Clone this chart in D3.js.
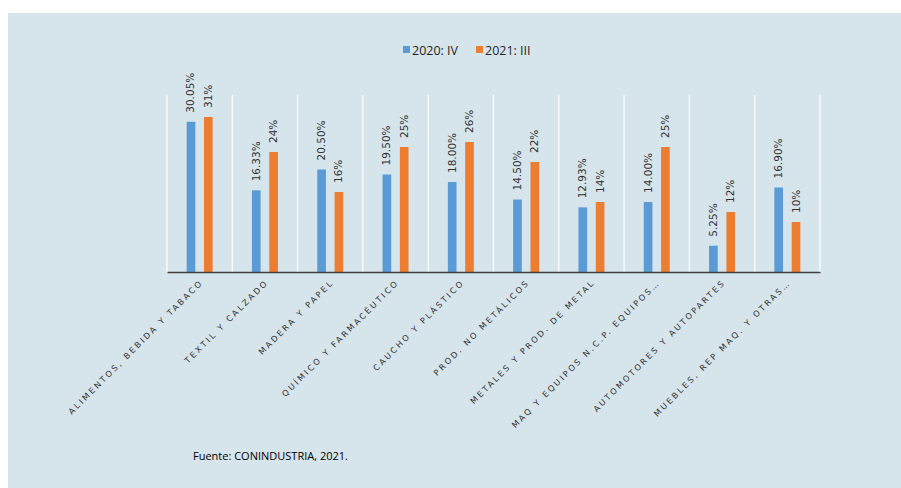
<!DOCTYPE html>
<html>
<head>
<meta charset="utf-8">
<script src="https://cdn.jsdelivr.net/npm/d3@7"></script>
<style>
  html, body { margin: 0; padding: 0; background: #ffffff; }
  svg { display: block; }
</style>
</head>
<body>
<svg id="chart" width="901" height="488"></svg>
<script>
// Sector categories (x axis)
const categories = [
  "ALIMENTOS, BEBIDA Y TABACO",
  "TEXTIL Y CALZADO",
  "MADERA Y PAPEL",
  "QUÍMICO Y FARMACÉUTICO",
  "CAUCHO Y PLÁSTICO",
  "PROD. NO METÁLICOS",
  "METALES Y PROD. DE METAL",
  "MAQ Y EQUIPOS N.C.P. EQUIPOS…",
  "AUTOMOTORES Y AUTOPARTES",
  "MUEBLES, REP MAQ. Y OTRAS…"
];

// Series names
const seriesNames = ["2020: IV", "2021: III"];

// Values in percent
const values2020IV = [30.05, 16.33, 20.50, 19.50, 18.00, 14.50, 12.93, 14.00, 5.25, 16.90];
const values2021III = [31, 24, 16, 25, 26, 22, 14, 25, 12, 10];

// Label formats per series
const labelDecimals = [2, 0];

const sourceNote = "Fuente: CONINDUSTRIA, 2021.";

const seriesColors = ["#5b9bd5", "#ed7d31"];

const svg = d3.select("#chart");

// Panel background
svg.append("rect")
  .attr("x", 8).attr("y", 13)
  .attr("width", 893).attr("height", 475)
  .attr("fill", "#d6e4ec");

const plot = { left: 167, right: 820, top: 95, bottom: 272 };

const x0 = d3.scaleBand()
  .domain(categories)
  .range([plot.left, plot.right])
  .paddingInner(0).paddingOuter(0);

const bw = x0.bandwidth();
const x1 = d3.scaleBand()
  .domain(seriesNames)
  .range([bw / 2 - 13, bw / 2 + 13])
  .paddingInner(0.5).paddingOuter(0);

const y = d3.scaleLinear().domain([0, 35]).range([plot.bottom, 97]);

// Vertical category separators
const bounds = categories.map(c => x0(c)).concat([plot.right]);
svg.append("g")
  .selectAll("line")
  .data(bounds)
  .join("line")
  .attr("x1", d => d).attr("x2", d => d)
  .attr("y1", plot.top).attr("y2", plot.bottom)
  .attr("stroke", "#ffffff")
  .attr("stroke-width", 1.2);

const rows = categories.map((c, i) => ({
  cat: c,
  vals: [values2020IV[i], values2021III[i]]
}));

const groups = svg.append("g")
  .selectAll("g")
  .data(rows)
  .join("g")
  .attr("transform", d => `translate(${x0(d.cat)},0)`);

groups.selectAll("rect")
  .data(d => d.vals.map((v, k) => ({ v, k })))
  .join("rect")
  .attr("x", d => x1(seriesNames[d.k]))
  .attr("y", d => y(d.v))
  .attr("width", x1.bandwidth())
  .attr("height", d => y(0) - y(d.v))
  .attr("fill", d => seriesColors[d.k]);

// Value labels, rotated
groups.selectAll("text")
  .data(d => d.vals.map((v, k) => ({ v, k })))
  .join("text")
  .attr("transform", d => {
    const cx = x1(seriesNames[d.k]) + x1.bandwidth() / 2 + 3.5;
    return `translate(${cx},${y(d.v) - 9}) rotate(-90)`;
  })
  .attr("text-anchor", "start")
  .attr("font-family", "DejaVu Sans, sans-serif")
  .attr("font-size", "10.5px")
  .attr("fill", "#333333")
  .text(d => d.v.toFixed(labelDecimals[d.k]) + "%");

// Baseline axis
const xAxis = d3.axisBottom(x0).tickSize(0).tickPadding(0).tickFormat(() => "");
svg.append("g")
  .attr("transform", `translate(0,${plot.bottom})`)
  .call(xAxis)
  .call(g => g.select(".domain").attr("stroke", "#404040").attr("stroke-width", 1.5));

// Category labels at 45°
svg.append("g")
  .selectAll("text")
  .data(categories)
  .join("text")
  .attr("transform", d => `translate(${x0(d) + bw / 2 + 4},${plot.bottom + 11}) rotate(-45)`)
  .attr("text-anchor", "end")
  .attr("font-family", "DejaVu Sans, sans-serif")
  .attr("font-size", "8.2px")
  .attr("letter-spacing", "2.3px")
  .attr("fill", "#333333")
  .text(d => d);

// Legend
const legend = svg.append("g").attr("transform", "translate(403,0)");
const legendItems = [
  { name: seriesNames[0], color: seriesColors[0], x: 0 },
  { name: seriesNames[1], color: seriesColors[1], x: 73 }
];
legendItems.forEach(it => {
  legend.append("rect")
    .attr("x", it.x).attr("y", 46)
    .attr("width", 7).attr("height", 7)
    .attr("fill", it.color);
  legend.append("text")
    .attr("x", it.x + 9).attr("y", 54.5)
    .attr("font-family", "Open Sans, sans-serif")
    .attr("font-size", "12.5px")
    .attr("fill", "#262626")
    .text(it.name);
});

// Source note
svg.append("text")
  .attr("x", 193).attr("y", 460)
  .attr("font-family", "Open Sans, sans-serif")
  .attr("font-size", "11px")
  .attr("fill", "#000000")
  .text(sourceNote);
</script>
</body>
</html>
